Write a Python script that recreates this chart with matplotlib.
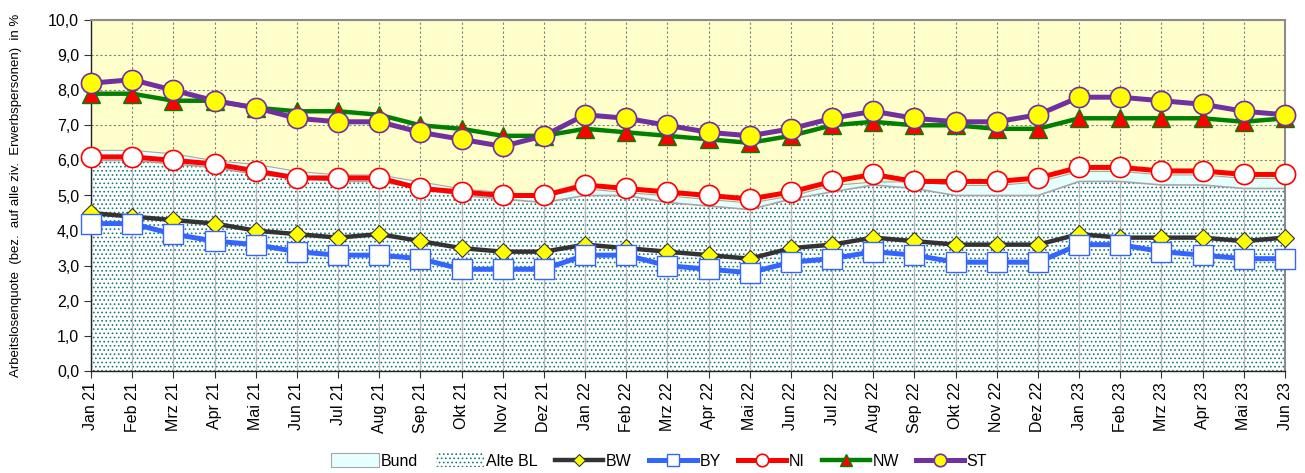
import numpy as np
import matplotlib
matplotlib.use("Agg")
import matplotlib.pyplot as plt
from matplotlib.ticker import FixedLocator, FuncFormatter

plt.rcParams['font.family'] = ['Liberation Sans', 'DejaVu Sans']
plt.rcParams['hatch.linewidth'] = 0.7

# data (Arbeitslosenquote in %)
months = ['Jan 21', 'Feb 21', 'Mrz 21', 'Apr 21', 'Mai 21', 'Jun 21', 'Jul 21', 'Aug 21',
          'Sep 21', 'Okt 21', 'Nov 21', 'Dez 21', 'Jan 22', 'Feb 22', 'Mrz 22', 'Apr 22',
          'Mai 22', 'Jun 22', 'Jul 22', 'Aug 22', 'Sep 22', 'Okt 22', 'Nov 22', 'Dez 22',
          'Jan 23', 'Feb 23', 'Mrz 23', 'Apr 23', 'Mai 23', 'Jun 23']
bund = [6.3, 6.3, 6.2, 6.0, 5.9, 5.7, 5.6, 5.6, 5.4, 5.2, 5.1, 5.0,
        5.2, 5.1, 5.0, 4.9, 4.8, 5.0, 5.3, 5.4, 5.4, 5.3, 5.3, 5.4,
        5.7, 5.7, 5.6, 5.6, 5.5, 5.5]
alte_bl = [6.0, 6.0, 5.9, 5.8, 5.6, 5.5, 5.4, 5.4, 5.2, 5.0, 4.9, 4.8,
           5.0, 5.0, 4.8, 4.7, 4.6, 4.9, 5.1, 5.3, 5.2, 5.0, 5.0, 5.0,
           5.4, 5.4, 5.3, 5.3, 5.2, 5.2]
bw = [4.5, 4.4, 4.3, 4.2, 4.0, 3.9, 3.8, 3.9, 3.7, 3.5, 3.4, 3.4,
      3.6, 3.5, 3.4, 3.3, 3.2, 3.5, 3.6, 3.8, 3.7, 3.6, 3.6, 3.6,
      3.9, 3.8, 3.8, 3.8, 3.7, 3.8]
by = [4.2, 4.2, 3.9, 3.7, 3.6, 3.4, 3.3, 3.3, 3.2, 2.9, 2.9, 2.9,
      3.3, 3.3, 3.0, 2.9, 2.8, 3.1, 3.2, 3.4, 3.3, 3.1, 3.1, 3.1,
      3.6, 3.6, 3.4, 3.3, 3.2, 3.2]
ni = [6.1, 6.1, 6.0, 5.9, 5.7, 5.5, 5.5, 5.5, 5.2, 5.1, 5.0, 5.0,
      5.3, 5.2, 5.1, 5.0, 4.9, 5.1, 5.4, 5.6, 5.4, 5.4, 5.4, 5.5,
      5.8, 5.8, 5.7, 5.7, 5.6, 5.6]
nw = [7.9, 7.9, 7.7, 7.7, 7.5, 7.4, 7.4, 7.3, 7.0, 6.9, 6.7, 6.7,
      6.9, 6.8, 6.7, 6.6, 6.5, 6.7, 7.0, 7.1, 7.0, 7.0, 6.9, 6.9,
      7.2, 7.2, 7.2, 7.2, 7.1, 7.2]
st = [8.2, 8.3, 8.0, 7.7, 7.5, 7.2, 7.1, 7.1, 6.8, 6.6, 6.4, 6.7,
      7.3, 7.2, 7.0, 6.8, 6.7, 6.9, 7.2, 7.4, 7.2, 7.1, 7.1, 7.3,
      7.8, 7.8, 7.7, 7.6, 7.4, 7.3]

x = np.arange(len(months))

fig = plt.figure(figsize=(13.05, 4.73), dpi=100)
ax = fig.add_axes([91/1305, 1-371/473, (1285-91)/1305, (371-20)/473])
ax.set_facecolor('#ffffcc')

# grid behind everything
ax.set_axisbelow(True)
ax.grid(True, color='#808080', linestyle=(0, (2, 2)), linewidth=0.8)

# areas
ax.fill_between(x, 0, bund, facecolor='#e6ffff', edgecolor='#a6a6a6', linewidth=0.8,
                zorder=1, label='Bund')
ax.fill_between(x, 0, alte_bl, facecolor='white', edgecolor='#1a7a7a', hatch='....',
                linewidth=0, zorder=1.2, label='Alte BL')
ax.plot(x, alte_bl, color='#a6a6a6', lw=1.2, zorder=1.3)
ax.vlines(x, 0, alte_bl, color='#b4b4b4', lw=0.9, zorder=1.4)

# lines
ax.plot(x, bw, color='#333333', lw=3.2, marker='D', ms=9.5, mfc='#ffff00', mec='#333333',
        mew=0.8, zorder=3, clip_on=False, label='BW')
ax.plot(x, by, color='#3366ff', lw=3.6, marker='s', ms=14, mfc='white', mec='#3366ff',
        mew=1.0, zorder=3.1, clip_on=False, label='BY')
ax.plot(x, ni, color='#ff0000', lw=3.6, marker='o', ms=14.5, mfc='white', mec='#ff0000',
        mew=1.2, zorder=3.2, clip_on=False, label='NI')
ax.plot(x, nw, color='#008000', lw=3.2, marker='^', ms=13, mfc='#ff0000', mec='#008000',
        mew=1.0, zorder=3.3, clip_on=False, label='NW')
ax.plot(x, st, color='#7030a0', lw=3.6, marker='o', ms=14.5, mfc='#ffff00', mec='#7030a0',
        mew=1.2, zorder=3.4, clip_on=False, label='ST')

ax.set_xlim(0, len(months) - 1)
ax.set_ylim(0, 10)
ax.yaxis.set_major_locator(FixedLocator(np.arange(0, 11, 1)))
ax.yaxis.set_major_formatter(FuncFormatter(lambda v, p: f'{v:.1f}'.replace('.', ',')))
ax.set_xticks(x)
ax.set_xticklabels(months, rotation=90)
ax.tick_params(axis='both', labelsize=11.5, length=5, width=0.8, color='#333333')
ax.tick_params(axis='x', pad=3)

for s in ['left', 'bottom']:
    ax.spines[s].set_color('#222222')
    ax.spines[s].set_linewidth(1)
for s in ['top', 'right']:
    ax.spines[s].set_color('#8c8c8c')
    ax.spines[s].set_linewidth(1.5)

ax.set_ylabel('Arbeitslosenquote  (bez.  auf alle ziv.  Erwerbspersonen)  in %', fontsize=9.5,
              labelpad=19)

fig.legend(loc='center', bbox_to_anchor=(659/1305, 1-461/473), ncol=7, frameon=False,
           fontsize=11.5, handlelength=3.0, handleheight=0.9, handletextpad=0.15,
           columnspacing=1.1, markerscale=0.62, borderaxespad=0)

fig.savefig('out.png', dpi=100)
